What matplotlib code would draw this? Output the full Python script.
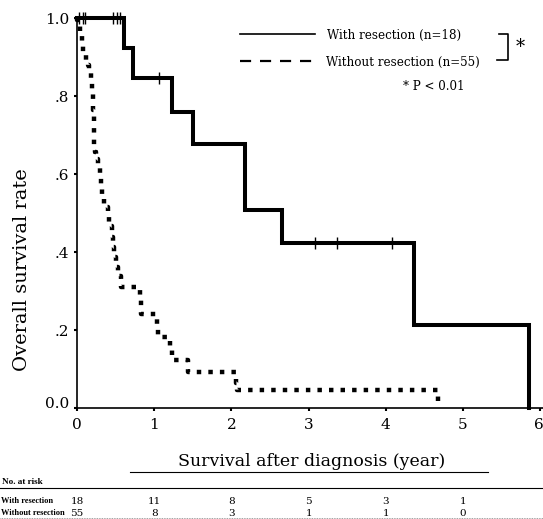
import matplotlib
matplotlib.use("Agg")
import matplotlib.pyplot as plt
from matplotlib.lines import Line2D
from matplotlib.transforms import ScaledTranslation, blended_transform_factory

plt.rcParams['font.family'] = ['DejaVu Serif']

# ---- data ----
with_t = [0, 0.61, 0.73, 1.23, 1.50, 2.18, 2.66, 4.37, 5.86]
with_s = [1.0, 0.923, 0.846, 0.759, 0.677, 0.508, 0.423, 0.212, 0.0]
with_cens_t = [0.02, 0.08, 0.10, 0.47, 0.52, 0.56, 1.06, 3.08, 3.37, 4.08]
with_cens_s = [1.0, 1.0, 1.0, 1.0, 1.0, 1.0, 0.846, 0.423, 0.423, 0.423]

wo_t = [0, 0.00, 0.04, 0.04, 0.065, 0.08, 0.12, 0.14, 0.155, 0.18, 0.19, 0.21, 0.21,
        0.22, 0.22, 0.22, 0.22, 0.23, 0.25, 0.27, 0.30, 0.31, 0.32, 0.35, 0.40, 0.41,
        0.45, 0.47, 0.48, 0.50, 0.53, 0.57, 0.82, 0.83, 1.04, 1.05, 1.20, 1.23, 1.44,
        2.06, 2.07, 4.68]
wo_s = [1.0, 0.995, 0.977, 0.956, 0.936, 0.913, 0.892, 0.879, 0.859, 0.836, 0.81, 0.79,
        0.764, 0.738, 0.718, 0.692, 0.669, 0.656, 0.638, 0.615, 0.59, 0.564, 0.541, 0.515,
        0.49, 0.467, 0.438, 0.413, 0.387, 0.362, 0.338, 0.31, 0.282, 0.242, 0.21, 0.183,
        0.151, 0.123, 0.092, 0.064, 0.046, 0.015]

x_ticks = [0, 1, 2, 3, 4, 5, 6]
y_ticks = [0.0, 0.2, 0.4, 0.6, 0.8, 1.0]
y_ticklabels = ['0.0', '.2', '.4', '.6', '.8', '1.0']

risk_times = [0, 1, 2, 3, 4, 5]
risk_with = [18, 11, 8, 5, 3, 1]
risk_without = [55, 8, 3, 1, 1, 0]

W, H = 543, 519
fig = plt.figure(figsize=(W / 100, H / 100), dpi=100)

def fx(px):
    return px / W

def fy(py):
    return 1 - py / H

ax = fig.add_axes([fx(77), fy(408), 6.05 * 77.2 / W, 390 / H])
ax.set_xlim(0, 6.05)
ax.set_ylim(0, 1.0)

ax.plot(with_t, with_s, drawstyle='steps-post', color='black', lw=2.9,
        solid_joinstyle='miter', clip_on=False, zorder=3)
ax.plot(with_cens_t, with_cens_s, linestyle='none', marker='|', ms=8, mew=1.0,
        color='black', clip_on=False, zorder=4)
ax.plot(wo_t, wo_s, drawstyle='steps-post', color='black', lw=3.2,
        linestyle=(0, (1, 1.6)), dash_capstyle='butt', clip_on=False, zorder=3)

for s in ['top', 'right']:
    ax.spines[s].set_visible(False)
for s in ['left', 'bottom']:
    ax.spines[s].set_linewidth(1.2)

ax.set_xticks(x_ticks)
ax.set_xticklabels([str(v) for v in x_ticks], fontsize=11)
ax.set_yticks(y_ticks)
ax.set_yticklabels(y_ticklabels, fontsize=11)
ax.tick_params(axis='both', direction='out', length=2.5, width=1.5)
ax.tick_params(axis='x', pad=5)
ax.tick_params(axis='y', pad=3)
lab0 = ax.get_yticklabels()[0]
lab0.set_transform(lab0.get_transform() + ScaledTranslation(0, 6 / 100, fig.dpi_scale_trans))
lab6 = ax.get_xticklabels()[-1]
lab6.set_horizontalalignment('right')
lab6.set_transform(lab6.get_transform() + ScaledTranslation(4 / 100, 0, fig.dpi_scale_trans))

# y label
fig.text(fx(22), fy(270), 'Overall survival rate', rotation=90, ha='center', va='center',
         fontsize=14)

# x label with underline
fig.text(fx(312), fy(462), 'Survival after diagnosis (year)', ha='center', va='center',
         fontsize=12.5)
fig.add_artist(Line2D([fx(130), fx(488)], [fy(472), fy(472)], color='black', lw=0.8))

# legend
fig.add_artist(Line2D([fx(240), fx(315)], [fy(34), fy(34)], color='black', lw=1.2))
fig.add_artist(Line2D([fx(240), fx(315)], [fy(61), fy(61)], color='black', lw=1.6,
                      linestyle=(0, (5, 4))))
fig.text(fx(327), fy(35), 'With resection (n=18)', ha='left', va='center', fontsize=8.6)
fig.text(fx(326), fy(62), 'Without resection (n=55)', ha='left', va='center', fontsize=8.6)
fig.add_artist(Line2D([fx(499), fx(508), fx(508), fx(497)],
                      [fy(34), fy(34), fy(60), fy(60)], color='black', lw=1.2))
fig.text(fx(520), fy(47), '*', ha='center', va='center', fontsize=13)
fig.text(fx(434), fy(86), '* P < 0.01', ha='center', va='center', fontsize=8.6)

# number at risk table
tf = ['Liberation Serif', 'DejaVu Serif']
fig.text(fx(2), fy(482), 'No. at risk', ha='left', va='center', fontsize=6.6,
         fontweight='bold', family=tf)
fig.add_artist(Line2D([0, 1], [fy(488), fy(488)], color='black', lw=0.8))
fig.text(fx(1), fy(501), 'With resection', ha='left', va='center', fontsize=6.0,
         fontweight='bold', family=tf)
fig.text(fx(1), fy(513), 'Without resection', ha='left', va='center', fontsize=6.0,
         fontweight='bold', family=tf)
tr = blended_transform_factory(ax.transData, fig.transFigure)
for t, a, b in zip(risk_times, risk_with, risk_without):
    fig.text(t, fy(501), str(a), transform=tr, ha='center', va='center', fontsize=7.5)
    fig.text(t, fy(513), str(b), transform=tr, ha='center', va='center', fontsize=7.5)
fig.add_artist(Line2D([0, 1], [fy(518), fy(518)], color='gray', lw=0.6, linestyle=(0, (1, 1))))

fig.savefig('out.png', dpi=100)
